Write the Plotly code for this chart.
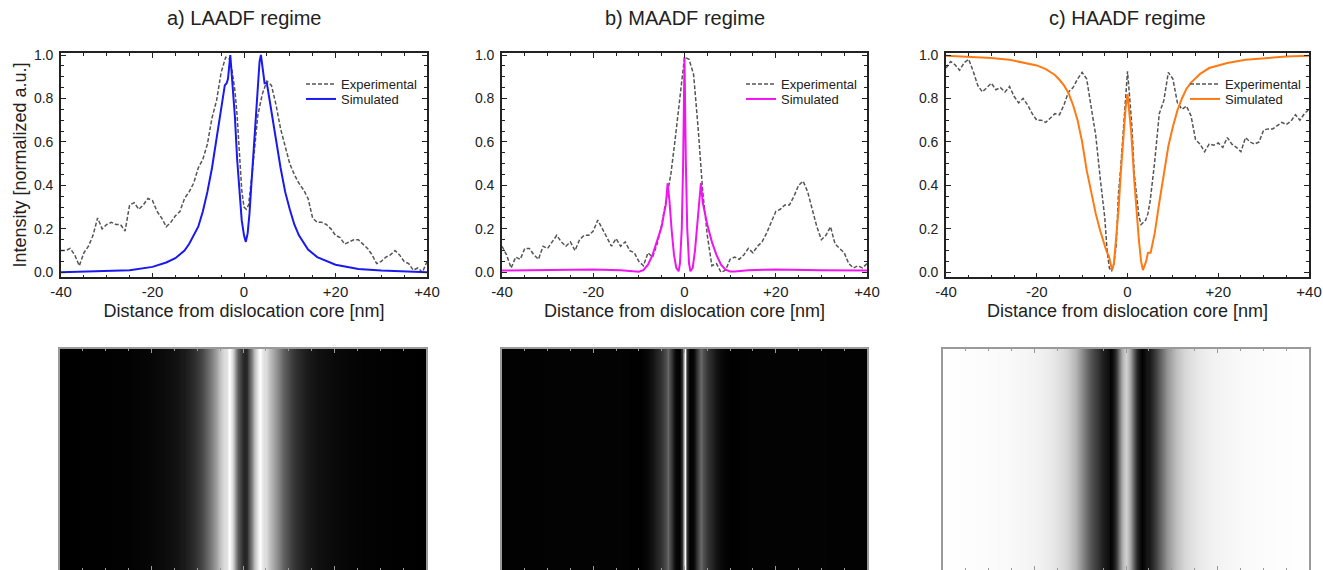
import plotly.graph_objects as go

# ---------------- data ----------------
# a) LAADF
exp_a_x = list(range(-40, -2)) + [-2, -1.5, -1, -0.5, 0, 0.5, 1, 1.5, 2] + list(range(3, 41))
exp_a_y = [0.10, 0.10, 0.11, 0.08, 0.03, 0.09, 0.12, 0.17, 0.25, 0.20,
           0.22, 0.23, 0.22, 0.22, 0.19, 0.31, 0.32, 0.29, 0.31, 0.34,
           0.33, 0.28, 0.25, 0.21, 0.23, 0.26, 0.28, 0.34, 0.37, 0.41,
           0.48, 0.52, 0.59, 0.71, 0.79, 0.92, 0.99, 0.98,
           0.84, 0.72, 0.55, 0.38, 0.30, 0.29, 0.31, 0.40, 0.50,
           0.72, 0.82, 0.88, 0.86, 0.77, 0.66, 0.58, 0.50, 0.45, 0.41,
           0.38, 0.34, 0.25, 0.23, 0.23, 0.22, 0.20, 0.17, 0.16, 0.13,
           0.14, 0.15, 0.15, 0.13, 0.11, 0.08, 0.04, 0.05, 0.07, 0.08,
           0.10, 0.08, 0.05, 0.04, 0.01, 0.02, 0.00, 0.05]
sim_a_x = [-40, -30, -25, -20, -17, -15, -13, -12, -11, -10, -9, -8, -7, -6, -5,
           -4.2, -3.8, -3.5, -3.0, -2.5, -2.0, -1.5, -1.0, -0.5, 0, 0.4, 0.8,
           1.2, 1.6, 2.0, 2.5, 3.0, 3.4, 3.7, 4.1, 4.5, 5.0, 5.5, 6, 7, 8, 9,
           10, 11, 12, 14, 16, 20, 25, 30, 40]
sim_a_y = [0.0, 0.005, 0.01, 0.025, 0.045, 0.065, 0.10, 0.13, 0.17, 0.21, 0.28,
           0.37, 0.48, 0.62, 0.76, 0.86, 0.87, 0.89, 1.00, 0.88, 0.72, 0.52,
           0.36, 0.24, 0.17, 0.14, 0.18, 0.27, 0.40, 0.53, 0.72, 0.88, 0.97,
           1.00, 0.92, 0.87, 0.87, 0.80, 0.74, 0.61, 0.48, 0.37, 0.29, 0.22,
           0.17, 0.105, 0.07, 0.035, 0.015, 0.008, 0.0]

# b) MAADF
exp_b_x = list(range(-40, 41))
exp_b_y = [0.12, 0.08, 0.02, 0.07, 0.06, 0.11, 0.11, 0.08, 0.06, 0.12,
           0.11, 0.14, 0.17, 0.14, 0.12, 0.14, 0.10, 0.15, 0.17, 0.17,
           0.19, 0.24, 0.20, 0.16, 0.12, 0.155, 0.12, 0.14, 0.10, 0.09,
           0.05, 0.03, 0.09, 0.07, 0.13, 0.22, 0.33, 0.45, 0.62, 0.80,
           0.99, 0.98, 0.91, 0.66, 0.37, 0.17, 0.03, 0.04, 0.00, 0.01,
           0.06, 0.07, 0.06, 0.08, 0.11, 0.09, 0.12, 0.14, 0.18, 0.23,
           0.28, 0.29, 0.31, 0.31, 0.35, 0.40, 0.42, 0.37, 0.29, 0.21,
           0.15, 0.17, 0.21, 0.13, 0.11, 0.09, 0.04, 0.02, 0.03, 0.02, 0.04]
sim_b_x = [-40, -30, -20, -14, -11, -10, -9, -8, -7, -6, -5, -4.5, -4.1, -3.7,
           -3.3, -2.8, -2.3, -1.8, -1.3, -1.0, -0.6, -0.3, 0, 0.3, 0.6, 1.0,
           1.3, 1.8, 2.3, 2.8, 3.3, 3.6, 4.0, 4.5, 5, 6, 7, 8, 9, 10, 11, 14,
           20, 30, 40]
sim_b_y = [0.008, 0.01, 0.013, 0.01, 0.004, 0.003, 0.01, 0.035, 0.08, 0.14,
           0.21, 0.27, 0.31, 0.41, 0.33, 0.19, 0.08, 0.02, 0.005, 0.04, 0.20,
           0.50, 0.99, 0.50, 0.20, 0.04, 0.005, 0.02, 0.10, 0.22, 0.36, 0.41,
           0.32, 0.27, 0.22, 0.14, 0.08, 0.035, 0.012, 0.004, 0.004, 0.01,
           0.013, 0.01, 0.008]

# c) HAADF
exp_c_x = list(range(-40, -5)) + [-5, -4.5, -4, -3.5, -3, -2.5, -2, -1.5, -1, -0.5,
                                  0, 0.5, 1, 1.5, 2, 2.5, 3, 3.5, 4, 4.5, 5] + list(range(6, 41))
exp_c_y = [0.94, 0.97, 0.955, 0.93, 0.965, 0.98, 0.925, 0.86, 0.83, 0.85,
           0.87, 0.84, 0.85, 0.83, 0.855, 0.81, 0.78, 0.80, 0.77, 0.73,
           0.70, 0.70, 0.69, 0.71, 0.73, 0.725, 0.77, 0.83, 0.85, 0.89,
           0.92, 0.89, 0.76, 0.63, 0.43,
           0.25, 0.10, 0.02, 0.005, 0.04, 0.12, 0.36, 0.48, 0.62, 0.80,
           0.925, 0.80, 0.66, 0.45, 0.34, 0.26, 0.22, 0.23, 0.24, 0.27, 0.33,
           0.51, 0.73, 0.79, 0.92, 0.89, 0.78, 0.75, 0.765, 0.72, 0.61,
           0.59, 0.555, 0.59, 0.585, 0.595, 0.575, 0.62, 0.59, 0.575, 0.555,
           0.62, 0.60, 0.59, 0.60, 0.655, 0.66, 0.66, 0.675, 0.69, 0.68,
           0.695, 0.725, 0.70, 0.73, 0.75]
sim_c_x = [-40, -35, -30, -26, -22, -20, -18, -16, -15, -14, -13, -12, -11, -10,
           -9, -8, -7, -6, -5.2, -4.6, -4.1, -3.8, -3.4, -3.0, -2.5, -2.0, -1.5,
           -0.8, -0.4, 0, 0.4, 0.8, 1.5, 2.0, 2.5, 3.0, 3.4, 4.1, 4.5, 5.1, 6, 7,
           8, 9, 10, 11, 12, 13, 14, 15, 16, 18, 20, 22, 26, 30, 35, 40]
sim_c_y = [0.997, 0.993, 0.986, 0.978, 0.963, 0.952, 0.935, 0.908, 0.886, 0.860,
           0.825, 0.77, 0.70, 0.60, 0.47, 0.37, 0.27, 0.19, 0.13, 0.095, 0.075,
           0.05, 0.01, 0.04, 0.15, 0.28, 0.45, 0.68, 0.76, 0.82, 0.74, 0.65,
           0.42, 0.28, 0.15, 0.05, 0.01, 0.05, 0.09, 0.09, 0.18, 0.32, 0.46,
           0.58, 0.67, 0.745, 0.80, 0.845, 0.873, 0.895, 0.913, 0.94, 0.953,
           0.963, 0.978, 0.986, 0.993, 0.997]

panel_titles = ["a) LAADF regime", "b) MAADF regime", "c) HAADF regime"]
legend_names = ["Experimental", "Simulated"]
x_tickvals = [-40, -20, 0, 20, 40]
x_ticktext = ["-40", "-20", "0", "+20", "+40"]
y_tickvals = [0.0, 0.2, 0.4, 0.6, 0.8, 1.0]
y_ticktext = ["0.0", "0.2", "0.4", "0.6", "0.8", "1.0"]
x_title = "Distance from dislocation core [nm]"
y_title = "Intensity [normalized a.u.]"

# ---------------- styling / layout ----------------
W, H = 1323, 570
FONT = "Liberation Sans, Arial, Helvetica, sans-serif"
INK = "#222222"
EXP_COLOR = "#555555"
SIM_COLORS = ["#1a1aee", "#f014f0", "#ff7a14"]

def fx(p):  # screen px -> paper fraction
    return p / W

def fy(p):
    return 1 - p / H

plot_x_px = [(61, 427), (502, 867), (946, 1309)]
img_x_px = [(60, 426), (502, 867), (943, 1309)]
top_dom = [fy(277.3), fy(52.7)]
img_dom = [0, fy(349)]
legend_text_px = [341, 781, 1225]
legend_item_y = [84, 99]

panels = [
    (exp_a_x, exp_a_y, sim_a_x, sim_a_y),
    (exp_b_x, exp_b_y, sim_b_x, sim_b_y),
    (exp_c_x, exp_c_y, sim_c_x, sim_c_y),
]

fig = go.Figure()
layout = dict(
    width=W, height=H,
    margin=dict(l=0, r=0, t=0, b=0, autoexpand=False),
    paper_bgcolor="white", plot_bgcolor="white",
    font=dict(family=FONT, color=INK),
    annotations=[],
)

def lname(n):
    return "legend" if n == 1 else f"legend{n}"

for i, (ex, ey, sx, sy) in enumerate(panels):
    k = i + 1
    ki = i + 4
    xa = "x" if k == 1 else f"x{k}"
    ya = "y" if k == 1 else f"y{k}"
    lg_exp = lname(2 * i + 1)
    lg_sim = lname(2 * i + 2)
    assert len(ex) == len(ey), (k, len(ex), len(ey))
    assert len(sx) == len(sy), (k, len(sx), len(sy))

    fig.add_trace(go.Scatter(
        x=ex, y=ey, mode="lines", name=legend_names[0],
        line=dict(color=EXP_COLOR, width=1.5, dash="4px,2px"),
        xaxis=xa, yaxis=ya, legend=lg_exp, showlegend=True))
    fig.add_trace(go.Scatter(
        x=sx, y=sy, mode="lines", name=legend_names[1],
        line=dict(color=SIM_COLORS[i], width=2),
        xaxis=xa, yaxis=ya, legend=lg_sim, showlegend=True))
    # image row: the simulated intensity as a grey-scale map
    fig.add_trace(go.Heatmap(
        x=sx, y=[0, 1], z=[sy, sy], zmin=0, zmax=1, zsmooth="best",
        colorscale=[[0, "#000000"], [1, "#ffffff"]], showscale=False,
        xaxis=f"x{ki}", yaxis=f"y{ki}", hoverinfo="skip"))

    x0, x1 = plot_x_px[i]
    layout[f"xaxis{'' if k == 1 else k}"] = dict(
        domain=[fx(x0), fx(x1)], anchor=ya, range=[-40, 40], automargin=False,
        tickmode="array", tickvals=x_tickvals, ticktext=x_ticktext,
        ticks="inside", ticklen=5, tickwidth=1, tickcolor=INK,
        minor=dict(dtick=5, tick0=0, ticks="inside", ticklen=3, tickcolor=INK),
        showline=True, linecolor=INK, linewidth=1.6, mirror="allticks",
        showgrid=False, zeroline=False,
        tickfont=dict(size=15, color=INK), ticklabelstandoff=0,
        title=dict(text=x_title, font=dict(size=18, color=INK), standoff=5),
    )
    layout[f"yaxis{'' if k == 1 else k}"] = dict(
        domain=top_dom, anchor=xa, range=[-0.023, 1.0106], automargin=False,
        tickmode="array", tickvals=y_tickvals, ticktext=y_ticktext,
        ticks="inside", ticklen=5, tickwidth=1, tickcolor=INK,
        minor=dict(dtick=0.05, tick0=0, ticks="inside", ticklen=3, tickcolor=INK),
        showline=True, linecolor=INK, linewidth=1.6, mirror="allticks",
        showgrid=False, zeroline=False,
        tickfont=dict(size=14, color=INK), ticklabelstandoff=3,
        title=dict(text=y_title if k == 1 else "", font=dict(size=18, color=INK), standoff=3),
    )
    ix0, ix1 = img_x_px[i]
    layout[f"xaxis{ki}"] = dict(
        domain=[fx(ix0), fx(ix1)], anchor=f"y{ki}", range=[-40, 40], automargin=False,
        tickmode="linear", tick0=0, dtick=20,
        ticks="inside", ticklen=4, tickwidth=1, tickcolor="#9a9a9a",
        minor=dict(dtick=5, tick0=0, ticks="inside", ticklen=2, tickcolor="#9a9a9a"),
        showticklabels=False,
        showline=True, linecolor="#9a9a9a", linewidth=1.5, mirror="allticks",
        showgrid=False, zeroline=False,
    )
    layout[f"yaxis{ki}"] = dict(
        domain=img_dom, anchor=f"x{ki}", range=[0, 1], automargin=False,
        ticks="", showticklabels=False,
        showline=True, linecolor="#9a9a9a", linewidth=1.5, mirror=True,
        showgrid=False, zeroline=False,
    )
    for lg, ly in ((lg_exp, legend_item_y[0]), (lg_sim, legend_item_y[1])):
        layout[lg] = dict(
            x=fx(legend_text_px[i] - 40), y=fy(ly - 15), xanchor="left", yanchor="top",
            bgcolor="rgba(0,0,0,0)", borderwidth=0, itemwidth=30,
            font=dict(size=13, color=INK, family=FONT),
        )
    layout["annotations"].append(dict(
        text=panel_titles[i], xref="paper", yref="paper",
        x=fx((x0 + x1) / 2), y=fy(18), xanchor="center", yanchor="middle",
        showarrow=False, font=dict(size=20, color=INK, family=FONT)))

fig.update_layout(**layout)
fig.write_html(
    "out.html",
    config={"displayModeBar": False},
    post_script="document.body.style.margin='0px';document.body.style.overflow='hidden';",
)
